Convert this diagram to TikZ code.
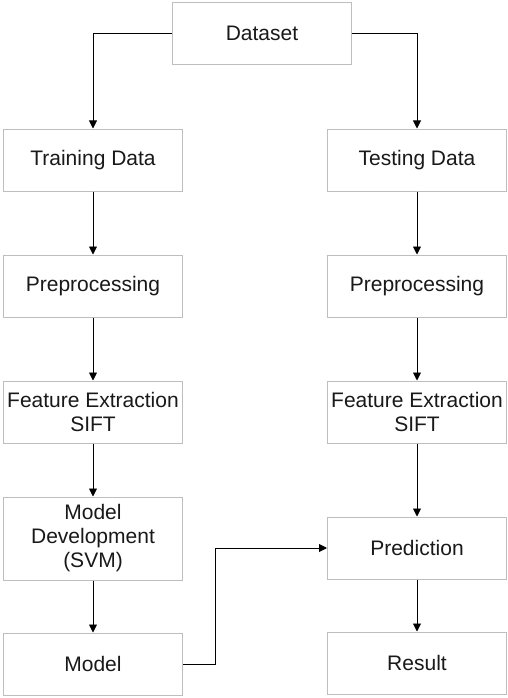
\documentclass[tikz,border=0pt]{standalone}
\usepackage{fontspec}
\setmainfont{Liberation Sans}
\usepackage{tikz}
\usetikzlibrary{arrows.meta,positioning}
\usepackage{xcolor}
\definecolor{edge}{RGB}{190,190,190}
\definecolor{ink}{RGB}{25,25,25}

\begin{document}
\begin{tikzpicture}[x=1pt,y=-1pt,
  every node/.style={font=\fontsize{21}{24}\selectfont,text=ink},
  stage/.style={draw=edge,line width=1pt,fill=white,minimum width=179pt,
    minimum height=62pt,align=center,inner sep=2pt},
  flow/.style={-{Triangle[length=8pt,width=8pt]},line width=0.9pt,black}]
\useasboundingbox (0,0) rectangle (508,698);
\node[stage] (data) at (262,33.5) {Dataset};
% training side
\node[stage] (train) at (93,160) {Training Data};
\node[stage,below=63pt of train] (prep1) {Preprocessing};
\node[stage,below=63pt of prep1] (feat1) {Feature Extraction\\SIFT};
\node[stage,minimum height=83pt,below=53pt of feat1] (svm) {Model\\Development\\(SVM)};
\node[stage,below=52pt of svm] (model) {Model};
% testing side
\node[stage] (test) at (417,160) {Testing Data};
\node[stage,below=63pt of test] (prep2) {Preprocessing};
\node[stage,below=63pt of prep2] (feat2) {Feature Extraction\\SIFT};
\node[stage,below=73pt of feat2] (pred) {Prediction};
\node[stage,below=52pt of pred] (result) {Result};
\draw[flow] (data.west) -| (train.north);
\draw[flow] (data.east) -| (test.north);
\draw[flow] (train) -- (prep1);
\draw[flow] (prep1) -- (feat1);
\draw[flow] (feat1) -- (svm);
\draw[flow] (svm) -- (model);
\draw[flow] (test) -- (prep2);
\draw[flow] (prep2) -- (feat2);
\draw[flow] (feat2) -- (pred);
\draw[flow] (pred) -- (result);
\draw[flow] (model.east) -- ++(32,0) |- (pred.west);
\end{tikzpicture}
\end{document}
